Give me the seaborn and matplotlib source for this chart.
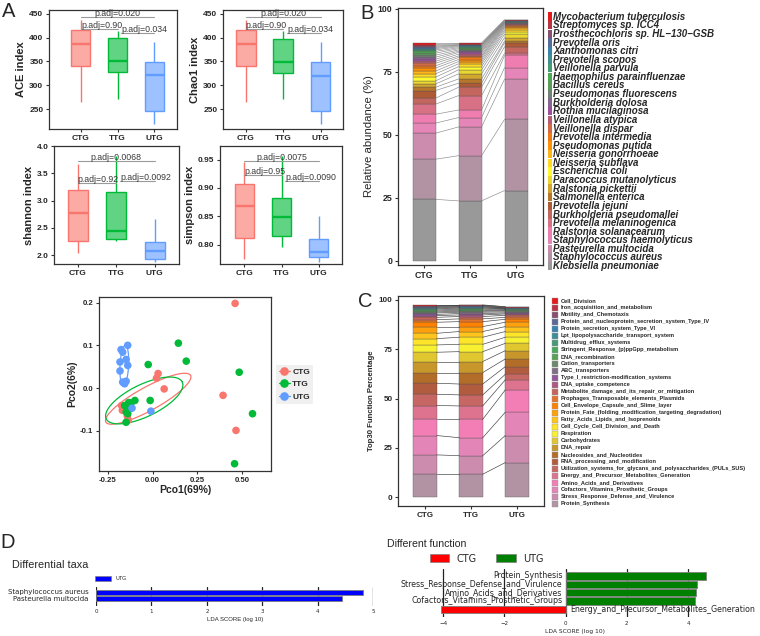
import numpy as np
import pandas as pd
import matplotlib
matplotlib.use("Agg")
import matplotlib.pyplot as plt
from matplotlib.patches import Rectangle, Patch
from matplotlib.lines import Line2D
from matplotlib.colors import LinearSegmentedColormap, to_rgb
from matplotlib.ticker import FormatStrFormatter
import seaborn as sns

sns.set_theme(style="ticks")
plt.rcParams["font.family"] = ["Liberation Sans", "DejaVu Sans"]
plt.rcParams["axes.edgecolor"] = "#333333"
plt.rcParams["axes.linewidth"] = 0.9

W, H = 760, 636

groups = ["CTG", "TTG", "UTG"]
group_colors = ["#F8766D", "#00BA38", "#619CFF"]

# ---------------- A: alpha diversity (min, q1, median, q3, max)
ace_ctg = [264, 341, 387, 415, 436]
ace_ttg = [270, 327, 350, 399, 414]
ace_utg = [218, 246, 321, 349, 390]
chao1_ctg = [264, 341, 386, 415, 436]
chao1_ttg = [270, 326, 349, 398, 413]
chao1_utg = [218, 245, 320, 349, 390]
shannon_ctg = [2.05, 2.26, 2.77, 3.19, 3.67]
shannon_ttg = [2.27, 2.29, 2.45, 3.15, 3.81]
shannon_utg = [1.87, 1.94, 2.08, 2.25, 2.66]
simpson_ctg = [0.774, 0.812, 0.869, 0.907, 0.946]
simpson_ttg = [0.796, 0.816, 0.849, 0.882, 0.956]
simpson_utg = [0.770, 0.778, 0.788, 0.810, 0.850]

# p.adj brackets: (start, end) on the group axis, text alignment
sig_spans = [(0, 2), (0, 1), (1.1, 2)]
sig_align = ["center", "left", "left"]
ace_sig_y = [443.6, 418, 409.6]
ace_sig_lab = ["p.adj=0.020", "p.adj=0.90", "p.adj=0.034"]
shannon_sig_y = [3.73, 3.33, 3.36]
shannon_sig_lab = ["p.adj=0.0068", "p.adj=0.92", "p.adj=0.0092"]
simpson_sig_y = [0.948, 0.923, 0.912]
simpson_sig_lab = ["p.adj=0.0075", "p.adj=0.95", "p.adj=0.0090"]

# ---------------- B: species relative abundance (bottom -> top)
species = ["Klebsiella pneumoniae", "Staphylococcus aureus", "Pasteurella multocida",
           "Staphylococcus haemolyticus", "Ralstonia solanacearum", "Prevotella melaninogenica",
           "Burkholderia pseudomallei", "Prevotella jejuni", "Salmonella enterica",
           "Ralstonia pickettii", "Paracoccus mutanolyticus", "Escherichia coli",
           "Neisseria subflava", "Neisseria gonorrhoeae", "Pseudomonas putida",
           "Prevotella intermedia", "Veillonella dispar", "Veillonella atypica",
           "Rothia mucilaginosa", "Burkholderia dolosa", "Pseudomonas fluorescens",
           "Bacillus cereus", "Haemophilus parainfluenzae", "Veillonella parvula",
           "Prevotella scopos", "Xanthomonas citri", "Prevotella oris",
           "Prosthecochloris sp. HL\u2212130\u2212GSB", "Streptomyces sp. ICC4",
           "Mycobacterium tuberculosis"]
abund_ctg = [24.4, 15.9, 10.3, 4.0, 3.5, 4.0, 2.4, 3.0, 1.3, 1.3, 1.2, 1.5, 1.3, 1.1, 1.2,
             0.9, 1.0, 0.8, 0.8, 0.8, 0.8, 0.8, 0.7, 0.6, 0.5, 0.4, 0.4, 0.4, 0.4, 0.7]
abund_ttg = [23.8, 17.9, 11.4, 3.7, 3.0, 5.7, 3.3, 1.6, 1.7, 2.0, 1.6, 1.3, 1.1, 0.9, 0.8,
             0.8, 0.6, 0.7, 0.7, 0.5, 0.5, 0.5, 0.4, 0.4, 0.3, 0.3, 0.1, 0.1, 0.3, 0.4]
abund_utg = [27.9, 28.2, 15.9, 4.6, 4.8, 0.9, 2.6, 1.6, 0.6, 1.4, 1.3, 1.0, 0.7, 0.7, 0.5,
             0.4, 0.3, 0.3, 0.2, 0.3, 0.1, 0.2, 0.1, 0.1, 0.1, 0.2, 0.1, 0.1, 0.2, 0.2]

# ---------------- C: top30 functions (bottom -> top)
functions = ["Protein_Synthesis", "Stress_Response_Defense_and_Virulence",
             "Cofactors_Vitamins_Prosthetic_Groups", "Amino_Acids_and_Derivatives",
             "Energy_and_Precursor_Metabolites_Generation",
             "Utilization_systems_for_glycans_and_polysaccharides_(PULs_SUS)",
             "RNA_processing_and_modification", "Nucleosides_and_Nucleotides", "DNA_repair",
             "Carbohydrates", "Respiration", "Cell_Cycle_Cell_Division_and_Death",
             "Fatty_Acids_Lipids_and_Isoprenoids",
             "Protein_Fate_(folding_modification_targeting_degradation)",
             "Cell_Envelope_Capsule_and_Slime_layer", "Prophages_Transposable_elements_Plasmids",
             "Metabolite_damage_and_its_repair_or_mitigation", "DNA_uptake_competence",
             "Type_I_restriction-modification_systems", "ABC_transporters",
             "Cation_transporters", "DNA_recombination", "Stringent_Response_(p)ppGpp_metabolism",
             "Multidrug_efflux_systems", "Lpt_lipopolysaccharide_transport_system",
             "Protein_secretion_system_Type_VI",
             "Protein_and_nucleoprotein_secretion_system_Type_IV", "Motility_and_Chemotaxis",
             "Iron_acquisition_and_metabolism", "Cell_Division"]
func_ctg = [11.7, 9.8, 9.8, 8.2, 7.0, 5.7, 5.6, 5.4, 5.6, 4.7, 3.7, 3.2, 2.7, 3.4, 2.2,
            1.3, 1.2, 0.9, 0.6, 0.7, 0.5, 0.5, 0.5, 0.5, 0.4, 0.3, 0.4, 0.3, 0.3, 0.4]
func_ttg = [11.7, 9.4, 9.1, 9.3, 6.8, 5.6, 5.5, 5.8, 5.6, 5.0, 3.7, 3.6, 2.9, 2.5, 2.5,
            1.4, 1.2, 0.8, 0.7, 0.7, 0.5, 0.5, 0.5, 0.5, 0.3, 0.4, 0.3, 0.3, 0.2, 0.2]
func_utg = [17.6, 13.7, 11.8, 11.3, 5.1, 2.8, 3.9, 3.9, 4.2, 3.7, 3.1, 2.9, 2.5, 2.2, 1.5,
            1.0, 1.0, 0.7, 0.5, 0.5, 0.5, 0.4, 0.3, 0.3, 0.2, 0.2, 0.1, 0.2, 0.4, 0.1]

# ---------------- PCoA
pco_ctg_x = [-0.172, -0.168, -0.140, -0.135, 0.022, 0.031, 0.065, 0.393, 0.465, 0.46]
pco_ctg_y = [-0.041, -0.052, -0.066, -0.075, 0.023, 0.034, -0.002, -0.017, -0.099, 0.198]
pco_ttg_x = [0.144, 0.188, -0.024, 0.483, -0.013, -0.098, -0.133, -0.155, -0.125, -0.147,
             -0.138, -0.147, 0.557, 0.457, -0.120, -0.140]
pco_ttg_y = [0.105, 0.063, 0.055, 0.037, -0.029, -0.029, -0.034, -0.041, -0.048, -0.056,
             -0.060, -0.080, -0.060, -0.177, -0.035, -0.045]
pco_utg_x = [-0.138, -0.175, -0.166, -0.181, -0.147, -0.138, -0.181, -0.166, -0.147, -0.114,
             -0.009, -0.155, -0.160]
pco_utg_y = [0.100, 0.090, 0.084, 0.061, 0.067, 0.053, 0.040, 0.014, 0.016, -0.047,
             -0.054, 0.010, 0.012]
# ellipse: centre, major semi-axis vector, minor semi-axis vector
ell_center = [(-0.024, -0.025), (-0.046, -0.029), (-0.157, 0.053)]
ell_major = [(0.236, 0.0546), (0.212, 0.043), (0.0055, 0.047)]
ell_minor = [(0.031, -0.024), (0.038, -0.034), (0.024, 0.0)]

# ---------------- D: LEfSe
taxa_names = ["Staphylococcus aureus", "Pasteurella multocida"]
taxa_lda = [4.82, 4.43]
taxa_class = ["UTG", "UTG"]
fun_names = ["Protein_Synthesis", "Stress_Response_Defense_and_Virulence",
             "Amino_Acids_and_Derivatives", "Cofactors_Vitamins_Prosthetic_Groups",
             "Energy_and_Precursor_Metabolites_Generation"]
fun_lda = [4.58, 4.28, 4.25, 4.22, -4.09]
fun_class = ["UTG", "UTG", "UTG", "UTG", "CTG"]

set1 = ["#E41A1C", "#377EB8", "#4DAF4A", "#984EA3", "#FF7F00", "#FFFF33",
        "#A65628", "#F781BF", "#999999"]
ramp = LinearSegmentedColormap.from_list("set1ramp", set1)
sp_colors = [ramp(v) for v in np.linspace(0, 1, 30)][::-1]
fn_colors = [ramp(v) for v in np.linspace(0, 1, 31)][:30][::-1]

fig = plt.figure(figsize=(W / 100, H / 100), dpi=100)


def add_ax(x0, y0, x1, y1):
    return fig.add_axes([x0 / W, 1 - y1 / H, (x1 - x0) / W, (y1 - y0) / H])


def bold_ticks(ax):
    for lab in ax.get_xticklabels() + ax.get_yticklabels():
        lab.set_fontweight("bold")


def mix_white(c, a):
    r, g, b = to_rgb(c)
    return (1 - a + a * r, 1 - a + a * g, 1 - a + a * b)


def box_panel(rect, vals, ylabel, ylim, yticks, fmt, sig_y, sig_lab, xlim):
    ax = add_ax(*rect)
    df = pd.DataFrame({"group": np.repeat(groups, 5), "value": np.concatenate(vals)})
    for g, c in zip(groups, group_colors):
        sns.boxplot(data=df[df["group"] == g], x="group", y="value", order=groups,
                    color=mix_white(c, 0.62), linecolor=c, linewidth=1.0, width=0.52,
                    whis=(0, 100), showcaps=False, saturation=1,
                    medianprops=dict(linewidth=1.7), ax=ax)
    for (i, j), al, h, lab in zip(sig_spans, sig_align, sig_y, sig_lab):
        ax.plot([i, j], [h, h], color="#9a9a9a", lw=0.8)
        tx = (i + j) / 2 if al == "center" else i
        ax.annotate(lab, (tx, h), xytext=(0, 0.6), textcoords="offset points",
                    ha=al, va="baseline", fontsize=6.3, color="#3a3a3a")
    ax.set_xlim(*xlim)
    ax.set_ylim(*ylim)
    ax.set_yticks(yticks)
    ax.yaxis.set_major_formatter(FormatStrFormatter(fmt))
    ax.set_xlabel("")
    ax.set_ylabel(ylabel, fontsize=8, fontweight="bold", labelpad=2)
    ax.tick_params(labelsize=6, length=2.5, width=0.8, pad=1.5, color="#333333")
    bold_ticks(ax)
    for s in ax.spines.values():
        s.set_visible(True)
    return ax


box_panel((49, 10, 177, 129), [ace_ctg, ace_ttg, ace_utg], "ACE index", (208, 458),
          [250, 300, 350, 400, 450], "%d", ace_sig_y, ace_sig_lab, (-0.87, 2.62))
box_panel((223, 10, 343, 129), [chao1_ctg, chao1_ttg, chao1_utg], "Chao1 index", (208, 458),
          [250, 300, 350, 400, 450], "%d", ace_sig_y, ace_sig_lab, (-0.61, 2.6))
box_panel((54, 146, 179, 264), [shannon_ctg, shannon_ttg, shannon_utg], "shannon index",
          (1.84, 4.0), [2.0, 2.5, 3.0, 3.5, 4.0], "%.1f", shannon_sig_y, shannon_sig_lab,
          (-0.61, 2.63))
box_panel((220, 146, 342, 264), [simpson_ctg, simpson_ttg, simpson_utg], "simpson index",
          (0.766, 0.974), [0.80, 0.85, 0.90, 0.95], "%.2f", simpson_sig_y, simpson_sig_lab,
          (-0.66, 2.63))


def stacked_panel(rect, tables, colors, ylim, xlim, bw, line_color, ylabel, ylab_kw, tick_fs):
    ax = add_ax(*rect)
    arr = np.array(tables)
    cum = np.cumsum(arr, axis=1)
    xpos = np.arange(len(groups))
    for k in range(arr.shape[1]):
        ax.bar(xpos, arr[:, k], bottom=cum[:, k] - arr[:, k], width=bw, color=colors[k],
               edgecolor="#505050", linewidth=0.25)
    for k in range(arr.shape[1]):
        for j in range(len(groups) - 1):
            ax.plot([xpos[j] + bw / 2, xpos[j + 1] - bw / 2], [cum[j, k], cum[j + 1, k]],
                    color=line_color, lw=0.45)
    ax.set_xlim(*xlim)
    ax.set_ylim(*ylim)
    ax.set_xticks(xpos)
    ax.set_xticklabels(groups)
    ax.set_yticks([0, 25, 50, 75, 100])
    ax.set_ylabel(ylabel, labelpad=3, **ylab_kw)
    ax.tick_params(labelsize=tick_fs, length=2.5, width=0.8, pad=1.5, color="#333333")
    bold_ticks(ax)
    return ax


stacked_panel((398, 8, 543, 265), [abund_ctg, abund_ttg, abund_utg], sp_colors,
              (-1.6, 100.2), (-0.565, 2.585), 0.5, "#8a8a8a",
              "Relative abundance (%)", dict(fontsize=8.2), 6.3)
stacked_panel((398, 296, 544, 506), [func_ctg, func_ttg, func_utg], fn_colors,
              (-4.4, 102.0), (-0.587, 2.587), 0.51, "#3c3c3c",
              "Top30 Function Percentage", dict(fontsize=5.6, fontweight="bold"), 5.8)

# ---------------- PCoA
axp = add_ax(99, 297, 271, 471)
pco = pd.DataFrame({
    "x": pco_ctg_x + pco_ttg_x + pco_utg_x,
    "y": pco_ctg_y + pco_ttg_y + pco_utg_y,
    "group": ["CTG"] * len(pco_ctg_x) + ["TTG"] * len(pco_ttg_x) + ["UTG"] * len(pco_utg_x),
})
sns.scatterplot(data=pco, x="x", y="y", hue="group", hue_order=groups,
                palette=dict(zip(groups, group_colors)), s=30, linewidth=0, alpha=1,
                legend=False, ax=axp, zorder=3)
t = np.linspace(0, 2 * np.pi, 200)
for c, (cx, cy), (ax_, ay_), (bx_, by_) in zip(group_colors, ell_center, ell_major, ell_minor):
    axp.plot(cx + ax_ * np.cos(t) + bx_ * np.sin(t), cy + ay_ * np.cos(t) + by_ * np.sin(t),
             color=c, lw=0.9, zorder=2)
axp.set_xlim(-0.298, 0.66)
axp.set_ylim(-0.194, 0.213)
axp.set_xticks([-0.25, 0.0, 0.25, 0.5])
axp.set_yticks([-0.1, 0.0, 0.1, 0.2])
axp.xaxis.set_major_formatter(FormatStrFormatter("%.2f"))
axp.yaxis.set_major_formatter(FormatStrFormatter("%.1f"))
axp.set_xlabel("Pco1(69%)", fontsize=7.5, fontweight="bold", labelpad=1)
axp.set_ylabel("Pco2(6%)", fontsize=7.5, fontweight="bold", labelpad=2)
axp.tick_params(labelsize=5.6, length=2.5, width=0.8, pad=1.5, color="#333333")
bold_ticks(axp)
handles = [Line2D([], [], color=c, marker="o", markersize=5.2, lw=0.9) for c in group_colors]
leg = axp.legend(handles, groups, loc="center left",
                 bbox_to_anchor=(276 / W, 1 - 384.5 / H), bbox_transform=fig.transFigure,
                 fontsize=6, handlelength=1.3, handletextpad=0.3, labelspacing=0.55,
                 borderpad=0.35, borderaxespad=0, frameon=True, fancybox=False,
                 facecolor="#F0F0F0", edgecolor="none", framealpha=1)
for txt in leg.get_texts():
    txt.set_fontweight("bold")

# ---------------- D left
axd1 = add_ax(96, 587.3, 373.3, 606)
sns.barplot(x=taxa_lda, y=taxa_names, hue=taxa_class, palette={"UTG": "#0000FF"},
            orient="h", dodge=False, width=0.85, saturation=1, edgecolor="#808080",
            linewidth=0.6, legend=False, ax=axd1)
axd1.set_xlim(0, 5)
axd1.set_ylim(2.2, -0.8)
axd1.set_xticks([0, 1, 2, 3, 4, 5])
axd1.set_yticks([])
axd1.set_axisbelow(True)
axd1.xaxis.grid(True, color="#222222", lw=0.9)
for s in axd1.spines.values():
    s.set_visible(False)
axd1.tick_params(axis="x", length=0, labelsize=4, pad=2)
axd1.set_xlabel("LDA SCORE (log 10)", fontsize=4.3, labelpad=2)
for i, nm in enumerate(taxa_names):
    axd1.text(-0.13, i, nm, ha="right", va="center", fontsize=5.0, family="DejaVu Sans")
for lab in axd1.get_xticklabels():
    lab.set_family("DejaVu Sans")
fig.legend([Patch(facecolor="#0000FF", edgecolor="#808080", lw=0.5)], ["UTG"],
           loc="center left", bbox_to_anchor=(95 / W, 1 - 578.5 / H), frameon=False,
           handlelength=3.0, handleheight=1.0, handletextpad=0.8,
           borderpad=0, borderaxespad=0, prop={"family": "DejaVu Sans", "size": 3.8})

# ---------------- D right
axd2 = add_ax(440.2, 569.3, 709.5, 617.3)
sns.barplot(x=fun_lda, y=fun_names, hue=fun_class,
            palette={"CTG": "#FF0000", "UTG": "#008000"}, orient="h", dodge=False,
            width=0.85, saturation=1, edgecolor="#808080", linewidth=0.6, legend=False, ax=axd2)
axd2.set_xlim(-4.1, 4.7)
axd2.set_ylim(4.96, -0.8)
axd2.set_xticks([-4, -2, 0, 2, 4])
axd2.set_yticks([])
axd2.set_axisbelow(True)
axd2.xaxis.grid(True, color="#222222", lw=0.9)
for s in axd2.spines.values():
    s.set_visible(False)
axd2.tick_params(axis="x", length=0, labelsize=4, pad=3)
axd2.set_xlabel("LDA SCORE (log 10)", fontsize=4.3, labelpad=2, family="DejaVu Sans")
for lab in axd2.get_xticklabels():
    lab.set_family("DejaVu Sans")
for i, (nm, v) in enumerate(zip(fun_names, fun_lda)):
    if v > 0:
        axd2.text(-0.1, i, nm, ha="right", va="center", fontsize=5.7, family="DejaVu Sans")
    else:
        axd2.text(0.15, i, nm, ha="left", va="center", fontsize=5.7, family="DejaVu Sans")
fig.legend([Patch(facecolor="#FF0000", edgecolor="#808080", lw=0.5),
            Patch(facecolor="#008000", edgecolor="#808080", lw=0.5)], ["CTG", "UTG"],
           loc="center left", bbox_to_anchor=(430 / W, 1 - 558.5 / H), frameon=False,
           ncol=2, handlelength=2.0, handleheight=0.8, handletextpad=0.75,
           columnspacing=2.0, borderpad=0, borderaxespad=0,
           prop={"family": "DejaVu Sans", "size": 7})

# ---------------- overlay (legends of B and C, panel letters, titles)
ov = fig.add_axes([0, 0, 1, 1])
ov.set_xlim(0, W)
ov.set_ylim(H, 0)
ov.axis("off")
ov.patch.set_alpha(0)

for i, (nm, c) in enumerate(zip(species[::-1], sp_colors[::-1])):
    y0 = 12.3 + i * 8.6
    ov.add_patch(Rectangle((547.7, y0), 4.0, 8.6, facecolor=c, edgecolor="none"))
    ov.text(553, y0 + 4.4, nm, fontsize=7.0, fontweight="bold", fontstyle="italic",
            va="center", ha="left")

for i, (nm, c) in enumerate(zip(functions[::-1], fn_colors[::-1])):
    yc = 300.7 + i * 7.01
    ov.add_patch(Rectangle((552.3, yc - 3.2), 5.4, 6.4, facecolor=c, edgecolor="#9a9a9a",
                           lw=0.3))
    ov.text(560.7, yc, nm, fontsize=4.1, fontweight="bold", va="center", ha="left")

for lab, x, y in [("A", 2, 2), ("B", 360, 4), ("C", 358, 292), ("D", 0, 533)]:
    ov.text(x, y, lab, fontsize=14.5, va="top", ha="left")
ov.text(12, 565, "Differential taxa", fontsize=7.8, va="center", ha="left")
ov.text(387, 544, "Different function", fontsize=7.6, va="center", ha="left")

fig.savefig("out.png", dpi=100)
